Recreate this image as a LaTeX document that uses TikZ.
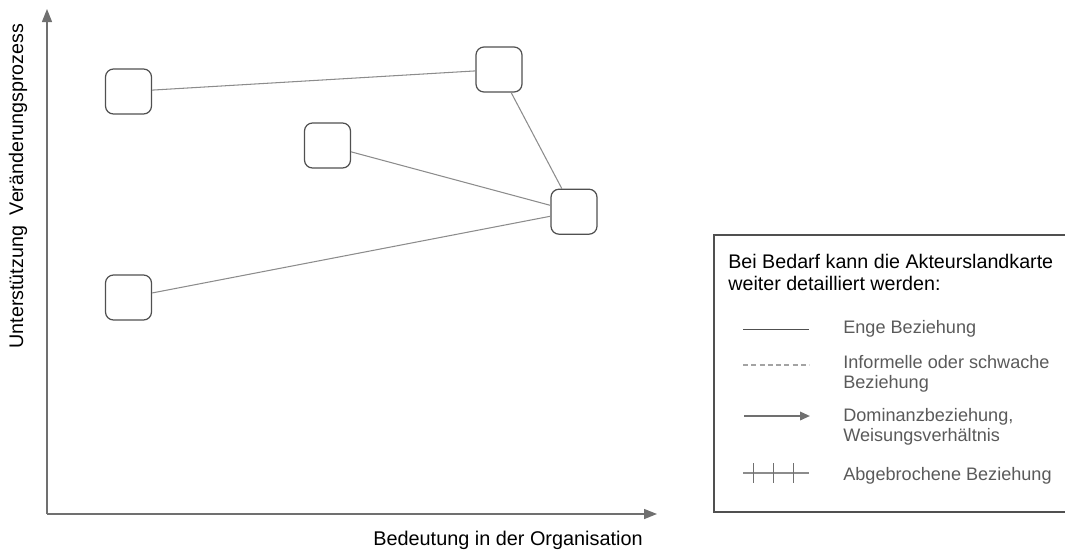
\documentclass[tikz,border=0pt]{standalone}
\usepackage{fontspec}
\setmainfont{Liberation Sans}
\usepackage{xcolor}
\usetikzlibrary{arrows.meta}
\definecolor{axiscolor}{HTML}{707070}
\definecolor{boxcolor}{HTML}{505050}
\definecolor{linkcolor}{HTML}{8C8C8C}
\definecolor{legendtext}{HTML}{5A5A5A}
\tikzset{
  akteur/.style={draw=boxcolor, line width=0.7pt, rectangle, rounded corners=0.16cm, minimum width=0.92cm, minimum height=0.9cm, inner sep=0pt},
  link/.style={draw=linkcolor, line width=0.6pt},
  axisline/.style={draw=axiscolor, line width=0.8pt, -{Triangle[length=0.26cm, width=0.2cm]}},
  legendlabel/.style={anchor=west, align=left, inner sep=0pt, text=legendtext, font=\fontsize{10.3pt}{11.6pt}\selectfont},
}

\begin{document}
\begin{tikzpicture}[x=0.02cm, y=-0.02cm]%
\useasboundingbox (0,0) rectangle (1065,549);%
% axes
\coordinate (origin) at (47,514);%
\coordinate (ytip) at (47,9);%
\coordinate (xtip) at (657,514);%
\draw[axisline] (origin) -- (ytip);%
\draw[axisline] (origin) -- (xtip);%
\node[rotate=90, font=\fontsize{11.2pt}{13pt}\selectfont] (ylabel) at (18,186) {Unterstützung\ \ Veränderungsprozess};%
\node[font=\fontsize{11.3pt}{13pt}\selectfont] (xlabel) at (508,540) {Bedeutung in der Organisation};%
% actors
\node[akteur] (a1) at (128.5,91.5) {};%
\node[akteur] (a2) at (499,69.5) {};%
\node[akteur] (a3) at (327.5,145.5) {};%
\node[akteur] (a4) at (574,211.7) {};%
\node[akteur] (a5) at (128.5,297.5) {};%
\draw[link] (a1) -- (a2);%
\draw[link] (a2) -- (a4);%
\draw[link] (a3) -- (a4);%
\draw[link] (a5) -- (a4);%
% legend
\draw[draw=boxcolor, line width=0.8pt] (1070,235) -- (714,235) -- (714,512) -- (1070,512);%
\node[anchor=west, align=left, inner sep=0pt, font=\fontsize{11.2pt}{12.5pt}\selectfont] (legtitle) at (728,272) {Bei Bedarf kann die Akteurslandkarte\\weiter detailliert werden:};%
\coordinate (l1a) at (743,329);%
\coordinate (l1b) at (809,329);%
\draw[draw=boxcolor, line width=0.5pt] (l1a) -- (l1b);%
\node[legendlabel] (leg1) at (843,329) {Enge Beziehung};%
\coordinate (l2a) at (743,365);%
\coordinate (l2b) at (809,365);%
\draw[draw=linkcolor!80, line width=0.6pt, dash pattern=on 0.1cm off 0.065cm] (l2a) -- (l2b);%
\node[legendlabel] (leg2) at (843,374) {Informelle oder schwache\\Beziehung};%
\coordinate (l3a) at (744,416);%
\coordinate (l3b) at (810,416);%
\draw[draw=axiscolor, line width=1.1pt, -{Triangle[length=0.2cm, width=0.17cm]}] (l3a) -- (l3b);%
\node[legendlabel] (leg3) at (843,427) {Dominanzbeziehung,\\Weisungsverhältnis};%
\coordinate (l4a) at (743,473);%
\coordinate (l4b) at (809,473);%
\draw[draw=linkcolor, line width=0.6pt] (l4a) -- (l4b);%
\foreach \tx in {753,773,793} {%
  \draw[draw=axiscolor, line width=0.5pt] (\tx,463) -- (\tx,483);%
}%
\node[legendlabel] (leg4) at (843,476) {Abgebrochene Beziehung};%
\end{tikzpicture}
\end{document}
